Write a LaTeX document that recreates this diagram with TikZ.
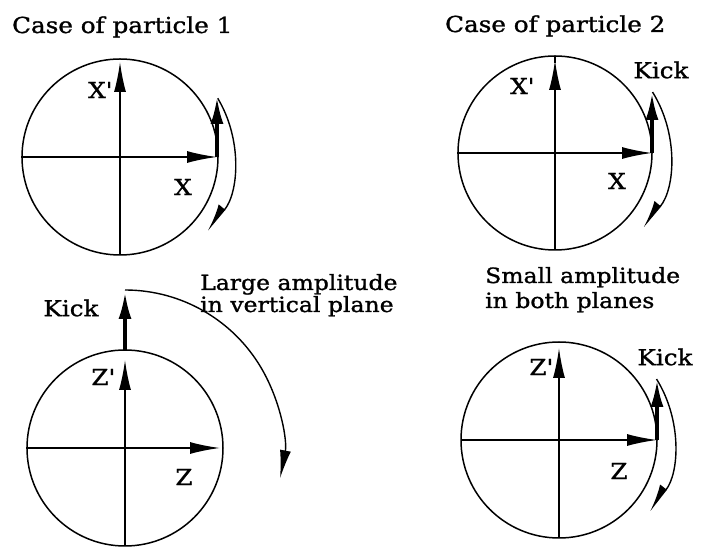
\documentclass[tikz,border=0pt]{standalone}
\usepackage{fontspec}
\setmainfont{DejaVu Serif}[FakeStretch=1.12, FakeBold=1.2]
\usetikzlibrary{arrows.meta}
\tikzset{
  ring/.style={line width=1.5pt},
  axis/.style={line width=1.6pt, -{Latex[length=30pt,width=12pt]}},
  kick/.style={line width=3.5pt, -{Latex[length=27pt,width=13pt]}},
  orbit/.style={line width=1.4pt, -{Latex[length=24pt,width=16pt,right]}},
  lbl/.style={font=\fontsize{22}{26}\selectfont, inner sep=0pt},
  note/.style={font=\fontsize{21}{25}\selectfont, inner sep=0pt, anchor=base west},
  title/.style={font=\fontsize{22}{26}\selectfont, inner sep=0pt, anchor=base west},
}
\newcommand{\prm}{\textquotesingle}
\begin{document}
\begin{tikzpicture}[x=1pt,y=1pt]
  \useasboundingbox (0,0) rectangle (701,548);
  \node[title] (title1) at (12,515) {Case of particle 1};
  \node[title] (title2) at (445,516) {Case of particle 2};
  \node[note] (large1) at (200,258) {Large amplitude};
  \node[note] (large2) at (200,236) {in vertical plane};
  \node[note] (small1) at (485,265) {Small amplitude};
  \node[note] (small2) at (485,240) {in both planes};
  % particle 1, horizontal plane
  \begin{scope}[shift={(120,391)}]
    \draw[ring] (0,0) circle (98pt);
    \draw[axis] (0,-98) -- (0,95);
    \draw[axis] (-99,0) -- (97,0);
    \draw[kick] (97,0) -- (97,60);
    \draw[orbit] (31:114) arc[start angle=31, end angle=-40, radius=114pt];
    \node[lbl] (xp1) at (-20,67) {X\prm};
    \node[lbl] (x1) at (63,-30) {X};
  \end{scope}
  % particle 2, horizontal plane
  \begin{scope}[shift={(555,395)}]
    \draw[ring] (0,0) circle (97pt);
    \draw[line width=1.6pt] (0,90) -- (0,97);
    \draw[axis] (0,-97) -- (0,93);
    \draw[axis] (-98,0) -- (97,0);
    \draw[kick] (97,0) -- (97,60);
    \draw[orbit] (32:115) arc[start angle=32, end angle=-40, radius=115pt];
    \node[lbl] (xp2) at (-33,67) {X\prm};
    \node[lbl] (x2) at (62,-28) {X};
    \node[lbl] (kick2) at (106,83) {Kick};
  \end{scope}
  % particle 1, vertical plane
  \begin{scope}[shift={(125,100)}]
    \draw[ring] (0,0) circle (98pt);
    \draw[axis] (0,-98) -- (0,88);
    \draw[axis] (-99,0) -- (95,0);
    \draw[kick] (0,98) -- (0,156);
    \draw[line width=1.4pt, -{Latex[length=28pt,width=11pt]}] (90:158) arc[start angle=90, end angle=-11, radius=158pt];
    \node[lbl] (zp3) at (-22,71) {Z\prm};
    \node[lbl] (z3) at (59,-29) {Z};
    \node[lbl] (kick3) at (-54,140) {Kick};
  \end{scope}
  % particle 2, vertical plane
  \begin{scope}[shift={(559,108)}]
    \draw[ring] (0,0) circle (98pt);
    \draw[axis] (0,-98) -- (0,92);
    \draw[axis] (-98,0) -- (98,0);
    \draw[kick] (98,0) -- (98,60);
    \draw[orbit] (32:115) arc[start angle=32, end angle=-38, radius=115pt];
    \node[lbl] (zp4) at (-18,73) {Z\prm};
    \node[lbl] (z4) at (60,-31) {Z};
    \node[lbl] (kick4) at (106,83) {Kick};
  \end{scope}
\end{tikzpicture}
\end{document}
